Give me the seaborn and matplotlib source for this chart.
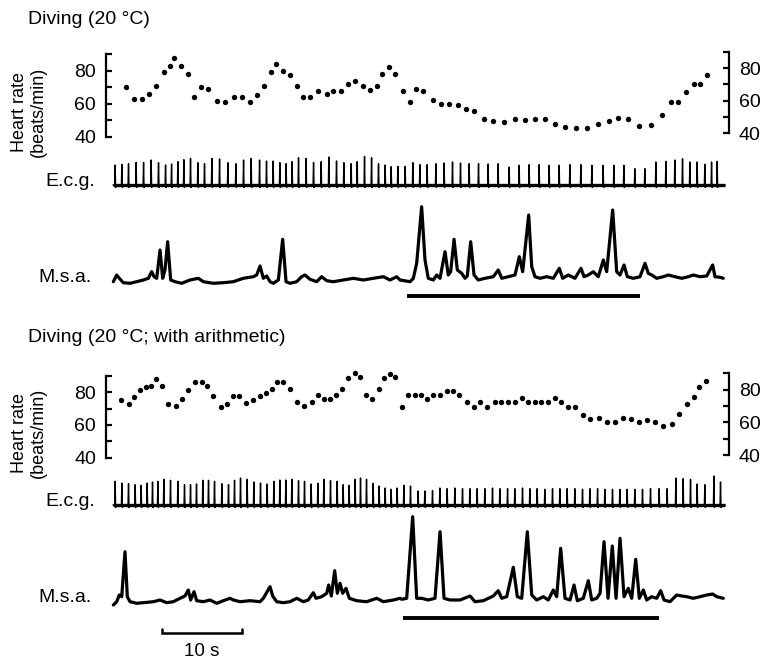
import matplotlib
matplotlib.use("Agg")
import matplotlib.pyplot as plt
import seaborn as sns
import pandas as pd

# ---------------- data (time in s, heart rate in beats/min, traces in arbitrary units) ----
top_title = "Diving (20 °C)"
bottom_title = "Diving (20 °C; with arithmetic)"
hr_ticks = [40, 60, 80]
hr_minor = [50, 70, 90]

top_hr_time = [1.63, 2.59, 3.63, 4.50, 5.38, 6.38, 7.16, 7.59, 8.46, 9.34, 10.16, 10.96, 11.91,
               13.0, 14.0, 15.09, 16.16, 17.09, 18.0, 18.84, 19.79, 20.38, 21.25, 22.09, 22.96,
               23.79, 24.66, 25.63, 26.75, 27.54, 28.46, 29.34, 30.29, 31.21, 32.13, 33.0, 33.66,
               34.46, 35.29, 36.21, 37.16, 37.88, 38.79, 39.96, 40.96, 41.96, 43.09, 44.09, 45.13,
               46.34, 47.54, 48.91, 50.21, 51.54, 52.71, 54.0, 55.29, 56.46, 57.84, 59.29, 60.59,
               61.96, 63.16, 64.41, 65.71, 67.21, 68.59, 69.71, 70.59, 71.59, 72.59, 73.41, 74.29]
top_hr_bpm = [70, 63, 63, 66, 71, 79, 83, 88, 83, 78, 64, 70, 69, 61.5, 61, 64, 64, 61, 65.5, 71,
              79.5, 84, 80, 77.5, 71, 64, 64, 68, 66, 68, 68, 72, 74, 71, 68.5, 71, 78, 82, 78, 68,
              61, 69, 68, 62, 60, 60, 59, 57, 55.5, 50.5, 49.5, 49, 50.5, 50, 51, 51, 48, 46, 45, 45,
              47.5, 49.5, 51.5, 50.5, 46.5, 47, 53, 61, 61, 67, 72, 72, 77.5]

bottom_hr_time = [1.0, 1.96, 2.63, 3.38, 4.13, 4.79, 5.38, 6.16, 6.88, 7.84, 8.66, 9.38, 10.21,
                  11.13, 11.71, 12.54, 13.46, 14.29, 14.96, 15.71, 16.63, 17.54, 18.34, 19.13, 19.88,
                  20.54, 21.29, 22.13, 23.04, 23.91, 24.84, 25.59, 26.41, 27.13, 27.88, 28.63, 29.38,
                  30.21, 30.88, 31.66, 32.34, 33.21, 33.91, 34.63, 35.29, 36.13, 36.91, 37.75, 38.54,
                  39.25, 40.04, 40.88, 41.71, 42.54, 43.29, 44.21, 45.09, 45.91, 46.79, 47.71, 48.54,
                  49.41, 50.25, 51.09, 51.91, 52.75, 53.54, 54.38, 55.21, 56.04, 56.88, 57.79, 58.71,
                  59.63, 60.71, 61.79, 62.79, 63.79, 64.79, 65.79, 66.71, 67.79, 68.79, 69.88, 70.79,
                  71.71, 72.66, 73.29, 74.13]
bottom_hr_bpm = [75, 73, 77, 81, 83, 83.5, 88, 83.5, 73, 71.5, 75.5, 81.5, 86, 86, 84, 77.5, 71, 73,
                 77.5, 77.5, 73.5, 75, 77.5, 79.5, 82, 86, 86, 82, 74, 71.5, 74, 78, 75.5, 75.5, 78,
                 82, 88.5, 91.5, 89, 78, 75.5, 82, 88.5, 91, 89.5, 71, 78, 78, 78, 76, 78, 78, 80.5,
                 80.5, 78.5, 74, 71, 74, 71, 74, 74, 74, 74, 76.5, 74, 74, 74, 74, 76.5, 74, 71, 71,
                 66, 63.5, 64, 62, 62, 64.5, 63.5, 61.5, 63, 61.5, 59.5, 60.5, 66.5, 73, 77, 83, 87]

top_ecg_time = [0.29, 1.13, 1.96, 2.91, 3.84, 4.79, 5.71, 6.59, 7.34, 8.13, 8.88, 9.71, 10.63,
                11.46, 12.38, 13.34, 14.38, 15.38, 16.34, 17.29, 18.34, 19.21, 20.04, 20.88, 21.66,
                22.41, 23.21, 24.16, 25.09, 26.04, 27.0, 27.96, 28.88, 29.79, 30.54, 31.46, 32.34,
                33.21, 34.04, 34.79, 35.63, 36.54, 37.5, 38.38, 39.29, 40.38, 41.41, 42.46, 43.46,
                44.54, 45.71, 46.91, 48.16, 49.54, 50.79, 52.04, 53.29, 54.54, 55.79, 57.13, 58.5,
                59.88, 61.29, 62.63, 63.88, 65.25, 66.5, 67.88, 69.13, 70.25, 71.21, 72.13, 73.04,
                74.0, 74.84, 75.54]
top_ecg_amp = [20, 20.6, 21.3, 22.6, 22.6, 25, 22.3, 20, 21, 23.3, 25.3, 26.6, 22.3, 21.3, 26.6, 26,
               22.3, 21.3, 25, 26.6, 25, 24, 24, 22.3, 21.3, 23.3, 27.3, 26.6, 22.6, 23.3, 28, 24,
               22.3, 21.3, 23.3, 28.6, 27.3, 21.3, 20, 18.3, 18.6, 18.6, 22.3, 20.3, 20.3, 21.3, 22,
               23, 22, 21.3, 21.3, 21, 21.3, 18, 19.7, 20.3, 20.3, 19.7, 19.7, 20.3, 20.3, 19.7, 19.7,
               19.7, 19.7, 16.3, 16.3, 23, 23.7, 25, 26.3, 23, 23, 20.7, 23, 23.7]

bottom_ecg_time = [0.29, 1.13, 1.96, 2.79, 3.54, 4.29, 4.96, 5.63, 6.38, 7.21, 8.13, 8.96, 9.71,
                   10.46, 11.25, 11.96, 12.71, 13.63, 14.46, 15.21, 15.96, 16.79, 17.63, 18.46, 19.29,
                   20.13, 20.88, 21.63, 22.38, 23.21, 23.96, 24.79, 25.63, 26.38, 27.21, 28.04, 28.79,
                   29.54, 30.29, 30.96, 31.71, 32.54, 33.29, 34.04, 34.79, 35.54, 36.38, 37.21, 38.16,
                   39.0, 39.96, 40.88, 41.79, 42.75, 43.71, 44.63, 45.54, 46.5, 47.46, 48.38, 49.34,
                   50.25, 51.21, 52.13, 53.04, 54.0, 54.96, 55.88, 56.79, 57.75, 58.71, 59.63, 60.59,
                   61.5, 62.46, 63.38, 64.29, 65.25, 66.21, 67.21, 68.29, 69.29, 70.38, 71.29, 72.21,
                   73.04, 74.0, 75.13, 75.96]
bottom_ecg_amp = [23.7, 22, 21.3, 20.3, 19.7, 22, 23, 23.7, 25.7, 24.7, 23.7, 20.3, 20.3, 21, 24.7,
                  24.7, 23.7, 21.3, 20.3, 24.7, 27, 25.7, 23, 22, 21, 23.7, 25, 25, 25.7, 24.3, 23.7,
                  21, 21.7, 25.7, 24.3, 23.7, 20.3, 19.7, 25.7, 27, 25.7, 21.7, 19, 17, 15.7, 17, 19.7,
                  19, 14, 14, 14.5, 17, 16.3, 17, 16.3, 16.3, 16.3, 16.3, 17, 16.3, 16.3, 16.3, 17,
                  16.3, 16.3, 15.7, 16.3, 16.3, 16.3, 16.3, 15.7, 16.3, 16.3, 15.7, 15.7, 15.7, 15.7,
                  15.7, 15.7, 16.3, 16.3, 16.3, 27, 26.3, 25.7, 21, 20.3, 29, 23]

top_msa_time = [0.04, 0.46, 0.79, 1.29, 2.13, 2.96, 3.79, 4.42, 4.83, 5.13, 5.46, 5.88, 6.21, 6.5,
                6.83, 7.21, 7.75, 8.58, 9.63, 10.67, 11.29, 12.54, 13.79, 15.04, 16.29, 17.54,
                17.96, 18.38, 18.79, 19.21, 19.63, 20.04, 20.67, 21.21, 21.63, 22.13, 22.96, 23.58,
                24.0, 24.63, 25.46, 26.08, 26.71, 27.54, 28.79, 30.04, 31.29, 32.54, 33.79, 34.63,
                35.46, 35.88, 37.13, 37.54, 37.96, 38.58, 39.0, 39.41, 40.04, 40.46, 40.88, 41.5,
                41.91, 42.21, 42.63, 43.04, 43.59, 44.0, 44.29, 44.71, 45.13, 45.66, 46.5, 47.54,
                48.16, 48.59, 49.41, 50.25, 50.79, 51.21, 51.96, 52.34, 52.75, 53.38, 54.21, 55.04,
                55.79, 56.21, 56.91, 57.75, 58.5, 58.88, 59.41, 60.04, 60.66, 61.29, 61.71, 62.46,
                62.96, 63.38, 63.88, 64.29, 65.04, 65.88, 66.5, 66.91, 67.34, 67.96, 68.79, 69.41,
                70.25, 71.09, 71.91, 72.54, 73.38, 74.21, 74.96, 75.25, 75.88, 76.29]
top_msa_amp = [-1.7, 5, 1.7, -2.7, -3.3, -1.7, 0, 1.7, 8.3, 3.3, 1.7, 30, 1.7, 10, 38.3, 0, -1.7,
               -3.3, 0, 1.7, -1.7, -3.3, -2.7, -1.7, 1.7, 3.3, 5, 14, 1.7, 4, -1.7, -3.3, 0, 40.7,
               -1.7, -3.3, -1.7, 3.3, 5, 0.7, -1.7, 3.3, -0.7, -1.7, 0, 1.7, 0, 1.7, 3.3, 0, 3.3,
               0, -1.7, 1.7, 16.7, 73.3, 20, 1.7, 0, 5, 1.7, 28.3, 5, 8.3, 40.7, 10, 6.7, 1.7, 4,
               38.3, 5, 0, 1.7, 3.3, 10, 1.7, 3.3, 5, 23.3, 8.3, 65, 13.3, 3.3, 1.7, 3.3, 1.7, 11.7,
               1.7, 5, 1.7, 11.7, 3.3, 5, 8.3, 3.3, 20, 8.3, 70, 8.3, 5, 15, 3.3, 1.7, 3.3, 16.7,
               6.7, 5, 1.7, 3.3, 5, 3.3, 1.7, 3.3, 5, 3.3, 4, 15, 3.3, 2.7, 1.7]

bottom_msa_time = [0.04, 0.46, 0.79, 1.09, 1.5, 1.79, 2.13, 2.96, 3.79, 5.04, 5.88, 6.71, 7.54,
                   8.38, 9.0, 9.41, 9.71, 10.13, 10.46, 11.29, 12.13, 12.96, 13.79, 14.63, 15.04,
                   15.88, 17.13, 18.38, 18.79, 19.63, 19.96, 20.46, 21.29, 22.13, 22.96, 23.79,
                   24.41, 25.04, 25.38, 26.08, 26.71, 26.96, 27.29, 27.71, 28.04, 28.38, 28.71,
                   29.13, 29.54, 30.46, 31.71, 32.96, 33.79, 35.04, 35.88, 36.09, 36.71, 37.46,
                   37.96, 38.59, 39.41, 40.25, 40.88, 41.38, 42.13, 43.38, 44.63, 45.25, 46.29,
                   47.54, 48.16, 48.59, 49.21, 50.04, 50.54, 51.09, 51.79, 52.34, 52.96, 53.79,
                   54.41, 55.04, 55.46, 55.96, 56.5, 57.13, 57.63, 58.04, 58.79, 59.41, 59.84,
                   60.46, 60.88, 61.38, 61.88, 62.41, 62.88, 63.38, 63.88, 64.41, 64.84, 65.34,
                   65.79, 66.29, 66.71, 67.34, 67.96, 68.46, 68.88, 69.63, 70.46, 71.09, 71.71,
                   72.54, 73.38, 74.21, 74.96, 75.46, 76.29]
bottom_msa_amp = [-6, -2.7, 4, 2.3, 47.3, 2.3, -2.7, -4.3, -3.7, -2.7, -1, -3.7, -2.7, 0.7, 3, 9,
                  -1, 7.3, -1.7, -2.7, -1, -4.3, -1.7, 0.7, -1, -2.7, -1.7, -2.7, 0.7, 12.3, 3,
                  -2.7, -3.7, -2.7, 0.7, -2.7, -1, 6.3, 0.7, 2.3, 5.7, 14, 3, 28.3, 5.7, 15.7, 5.7,
                  10.7, 0.7, -1.7, -2.7, 0.7, -2.7, -1, 0.7, -0.3, 0.7, 82.3, 0.7, 0.7, -1, 0.7,
                  67.3, 0.7, -1, -1, 3, -2.7, -1.7, 3, 8.3, 0.7, 2.3, 31.7, 2.3, 0.7, 67.3, 4, -1,
                  2.3, -1, 9, 2.3, 50.7, 0.7, -1, 14, -1.7, 0.7, 18.3, -1, 0.7, 5.7, 57.3, 0.7, 53,
                  0.7, 60.7, 2.3, 10.7, 0.7, 39.7, 0.7, 9, -1, 2.3, 0.7, 8.3, -1, -2.7, 4, 3, 2.3,
                  0.7, 2.3, 4, 5, 2.3, 0.7]

top_dive_period = [36.7, 65.9]
bottom_dive_period = [36.2, 68.3]
scale_bar_s = [6.1, 16.1]
scale_label = "10 s"
trace_span = [0.0, 76.5]

# ---------------- figure ----------------
sns.set_theme(style="white")
plt.rcParams["font.family"] = ["Liberation Sans", "DejaVu Sans"]
plt.rcParams["text.color"] = "black"
plt.rcParams["axes.labelcolor"] = "black"
W, H = 763, 662
fig = plt.figure(figsize=(W / 100, H / 100), dpi=100)
X0, X1 = 105.7, 729.0
XLIM = ((X0 - 113) / 8, (X1 - 113) / 8)


def px_axes(y0, y1, x0=X0, x1=X1):
    return fig.add_axes([x0 / W, 1 - y1 / H, (x1 - x0) / W, (y1 - y0) / H])


def blank(ax):
    ax.set_xlim(*XLIM)
    for s in ax.spines.values():
        s.set_visible(False)
    ax.set_xticks([])
    ax.set_yticks([])
    ax.set_xlabel("")
    ax.set_ylabel("")
    ax.patch.set_alpha(0)


def hr_panel(y0, y1, ry0, ry1, times, bpm):
    ax = px_axes(y0, y1)
    sns.scatterplot(x=times, y=bpm, ax=ax, s=15, color="black", linewidth=0, clip_on=False)
    ax.set_xlim(*XLIM)
    ax.set_ylim(40, 90)
    for k in ["top", "bottom", "right"]:
        ax.spines[k].set_visible(False)
    ax.spines["left"].set_linewidth(1.6)
    ax.spines["left"].set_color("black")
    ax.set_xticks([])
    ax.set_yticks(hr_ticks)
    ax.set_yticks(hr_minor, minor=True)
    ax.tick_params(axis="y", which="both", direction="in", length=4.5, width=1.6,
                   colors="black", pad=7, labelsize=14, left=True)
    ax.tick_params(axis="y", which="minor", labelleft=False)
    ax.set_xlabel("")
    ax.set_ylabel("")
    ax.patch.set_alpha(0)

    axr = px_axes(ry0, ry1)
    axr.set_xlim(*XLIM)
    axr.set_ylim(40, 90)
    for k in ["top", "bottom", "left"]:
        axr.spines[k].set_visible(False)
    axr.spines["right"].set_linewidth(1.6)
    axr.spines["right"].set_color("black")
    axr.set_xticks([])
    axr.yaxis.tick_right()
    axr.set_yticks(hr_ticks)
    axr.set_yticks(hr_minor, minor=True)
    axr.tick_params(axis="y", which="both", direction="in", length=4.5, width=1.6,
                    colors="black", pad=7, labelsize=14, right=True, left=False)
    axr.tick_params(axis="y", which="minor", labelright=False)
    axr.patch.set_alpha(0)


def ecg_panel(y0, y1, times, amps):
    ax = px_axes(y0, y1)
    xs, ys = [trace_span[0]], [0.0]
    for t, a in zip(times, amps):
        xs += [t - 0.08, t - 0.02, t + 0.04, t + 0.12]
        ys += [0.0, a, -2.5, 0.0]
    xs.append(trace_span[1])
    ys.append(0.0)
    df = pd.DataFrame({"t": xs, "v": ys})
    ax.plot(trace_span, [0, 0], color="black", lw=2.4, solid_capstyle="butt")
    sns.lineplot(data=df, x="t", y="v", ax=ax, sort=False, estimator=None,
                 color="black", lw=1.0)
    ax.set_ylim(-10, 35)
    blank(ax)


def msa_panel(y0, y1, ylim, times, amps, period, bar_y):
    ax = px_axes(y0, y1)
    df = pd.DataFrame({"t": times, "v": amps})
    sns.lineplot(data=df, x="t", y="v", ax=ax, sort=False, estimator=None,
                 color="black", lw=2.3)
    ax.plot(period, [bar_y, bar_y], color="black", lw=2.8, solid_capstyle="butt")
    ax.set_ylim(*ylim)
    blank(ax)
    return ax


# top block
fig.text(28 / W, 1 - 19 / H, top_title, fontsize=14, ha="left", va="center")
hr_panel(54.3, 136.7, 51.7, 133.3, top_hr_time, top_hr_bpm)
fig.text(29 / W, 1 - 112 / H, "Heart rate\n(beats/min)", rotation=90, fontsize=13,
         ha="center", va="center", multialignment="center", linespacing=1.2)
ecg_panel(150, 195, top_ecg_time, top_ecg_amp)
fig.text(95 / W, 1 - 182 / H, "E.c.g.", fontsize=14, ha="right", va="center")
msa_panel(200, 300, (-20, 80), top_msa_time, top_msa_amp, top_dive_period, -15.7)
fig.text(92 / W, 1 - 277 / H, "M.s.a.", fontsize=14, ha="right", va="center")

# bottom block
fig.text(28 / W, 1 - 338 / H, bottom_title, fontsize=14, ha="left", va="center")
hr_panel(375.7, 457.7, 373.3, 455.0, bottom_hr_time, bottom_hr_bpm)
fig.text(29 / W, 1 - 433 / H, "Heart rate\n(beats/min)", rotation=90, fontsize=13,
         ha="center", va="center", multialignment="center", linespacing=1.2)
ecg_panel(470, 515, bottom_ecg_time, bottom_ecg_amp)
fig.text(95 / W, 1 - 502 / H, "E.c.g.", fontsize=14, ha="right", va="center")
axm = msa_panel(509, 662, (-63, 90), bottom_msa_time, bottom_msa_amp, bottom_dive_period, -18.7)
fig.text(92 / W, 1 - 597 / H, "M.s.a.", fontsize=14, ha="right", va="center")

# 10 s scale bar
axm.plot([scale_bar_s[0], scale_bar_s[0], scale_bar_s[1], scale_bar_s[1]],
         [-29.5, -34, -34, -29.5], color="black", lw=1.8, solid_joinstyle="miter")
axm.text(sum(scale_bar_s) / 2, -53, scale_label, fontsize=13.5, ha="center", va="center")

fig.savefig("out.png", dpi=100, facecolor="white")
